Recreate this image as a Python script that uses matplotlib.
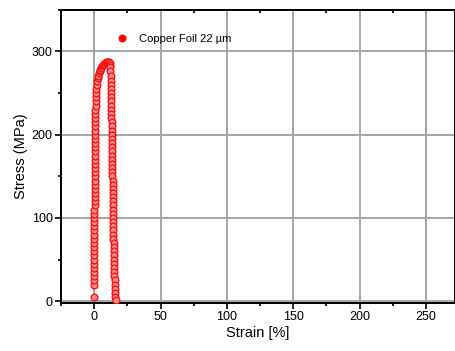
import matplotlib
matplotlib.use('Agg')
import matplotlib.pyplot as plt
from matplotlib.ticker import MultipleLocator

plt.rcParams['font.family'] = ['Liberation Sans', 'DejaVu Sans']

# loading branch
load_strain = [-0.1, 0.0, 0.0, 0.0, 0.0, 0.0, 0.05, 0.05, 0.05, 0.05, 0.05,
               0.1, 0.1, 0.1, 0.1, 0.1, 0.15, 0.15, 0.15, 0.15, 0.2, 0.2, 0.2,
               0.2, 0.25, 0.25, 0.25, 0.3, 0.3, 0.3, 0.35, 0.35, 0.4, 0.4, 0.45,
               0.5, 0.5, 0.55, 0.6, 0.65, 0.7, 0.75, 0.8, 0.9, 1.0, 1.1, 1.2,
               1.35, 1.5, 1.8, 2.1, 2.5, 3.0, 3.5, 4.0, 4.6, 5.2, 5.9, 6.6, 7.3,
               8.0, 8.8, 9.6, 10.4, 11.0, 11.5, 11.9, 12.1]
load_stress = [5, 20, 25, 30, 35, 40, 45, 50, 55, 60, 65, 70, 75, 80, 85, 90,
               95, 100, 105, 110, 115, 120, 125, 130, 135, 140, 145, 150, 155,
               160, 165, 170, 175, 180, 185, 190, 195, 200, 205, 210, 215, 220,
               225, 230, 235, 240, 245, 250, 255, 260, 264, 268, 271, 274, 276,
               278, 280, 282, 283.5, 285, 286, 287, 287.5, 287.5, 287, 286, 284,
               281]

# fracture branch
drop_strain = [12.2, 12.3, 12.4, 12.45, 12.5, 12.55, 12.6, 12.7, 12.75, 12.8,
               12.85, 12.9, 13.0, 13.05, 13.1, 13.2, 13.25, 13.3, 13.35, 13.4,
               13.45, 13.5, 13.55, 13.6, 13.65, 13.7, 13.75, 13.8, 13.85, 13.9,
               13.95, 14.0, 14.0, 14.05, 14.1, 14.15, 14.2, 14.25, 14.3, 14.4,
               14.45, 14.5, 14.6, 14.65, 14.7, 14.8, 14.9, 15.0, 15.1, 15.2,
               15.3, 15.45, 15.6, 15.75, 15.9, 16.1]
drop_stress = [276, 270, 265, 260, 255, 250, 245, 240, 235, 230, 225, 220, 215,
               210, 205, 200, 195, 190, 185, 180, 175, 170, 165, 160, 155, 150,
               145, 140, 135, 130, 125, 120, 115, 110, 105, 100, 95, 90, 85, 80,
               75, 70, 65, 60, 55, 50, 45, 40, 35, 30, 25, 20, 15, 10, 5, 2]

strain = load_strain + drop_strain
stress = load_stress + drop_stress

fig = plt.figure(figsize=(4.56, 3.51), dpi=100)
ax = fig.add_axes([0.134, 0.137, 0.864, 0.835])

ax.plot(strain, stress, 'o', color='red', mec='#ff1010', mfc='#ff9090',
        ms=4.8, mew=1.0, label='Copper Foil 22 µm', zorder=3)

ax.set_xlim(-25, 272)
ax.set_ylim(-2, 350)
ax.xaxis.set_major_locator(MultipleLocator(50))
ax.xaxis.set_minor_locator(MultipleLocator(25))
ax.yaxis.set_major_locator(MultipleLocator(100))
ax.yaxis.set_minor_locator(MultipleLocator(50))

ax.grid(True, which='major', color='#a6a6a6', lw=1.4, zorder=0)
ax.set_axisbelow(True)

ax.tick_params(which='both', direction='out', top=False, right=False,
               labelsize=9, width=1.2, pad=2)
ax.tick_params(which='major', length=4)
ax.tick_params(which='minor', length=2.5)

# inward ticks on the top edge, no labels
top = ax.secondary_xaxis('top')
top.xaxis.set_major_locator(MultipleLocator(50))
top.xaxis.set_minor_locator(MultipleLocator(25))
top.tick_params(which='both', direction='in', labeltop=False, width=1.2)
top.tick_params(which='major', length=4)
top.tick_params(which='minor', length=2.5)
top.spines['top'].set_linewidth(1.4)

for spine in ax.spines.values():
    spine.set_linewidth(1.4)

ax.set_xlabel('Strain [%]', fontsize=10.5, labelpad=2)
ax.set_ylabel('Stress (MPa)', fontsize=10.5, labelpad=3)

leg = ax.legend(loc='upper left', bbox_to_anchor=(0.1, 0.953), frameon=False,
                fontsize=8, handletextpad=0.6, markerscale=1.0)
for h in leg.legend_handles:
    h.set_markerfacecolor('red')

fig.savefig('out.png', dpi=100)
